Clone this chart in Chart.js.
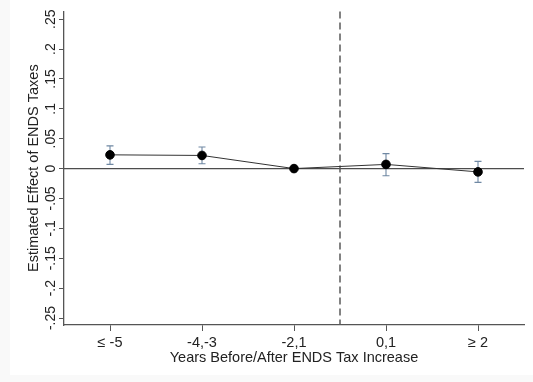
<!DOCTYPE html>
<html>
<head>
<meta charset="utf-8">
<script src="https://cdn.jsdelivr.net/npm/chart.js@4/dist/chart.umd.min.js"></script>
<style>
  html, body { margin: 0; padding: 0; background: #f9f9f9; width: 533px; height: 382px; overflow: hidden; }
  #wrap { position: absolute; left: 10px; top: 0; width: 523px; height: 375px; background: #ffffff; }
</style>
</head>
<body>
<div id="wrap"><canvas id="c" width="523" height="375"></canvas></div>
<script>
// ---- data ----
const categories = ['\u2264 -5', '-4,-3', '-2,1', '0,1', '\u2265 2'];
const estimates  = [0.023, 0.022, 0.0, 0.007, -0.0055];
const ciLower    = [0.007, 0.008, 0.0, -0.012, -0.023];
const ciUpper    = [0.038, 0.036, 0.0, 0.025, 0.012];
const yTickValues = [-0.25, -0.2, -0.15, -0.1, -0.05, 0, 0.05, 0.1, 0.15, 0.2, 0.25];
const yTickLabels = ['-.25', '-.2', '-.15', '-.1', '-.05', '0', '.05', '.1', '.15', '.2', '.25'];
const yMin = -0.2617, yMax = 0.263;
const refBetween = [2, 3]; // dashed reference line between these categories

const FONT = '"Liberation Sans", Arial, sans-serif';
const AXIS = '#555555';
const TEXT = '#222222';

const overlay = {
  id: 'overlay',
  beforeDatasetsDraw(chart) {
    const { ctx, chartArea: a, scales: { x, y } } = chart;
    ctx.save();
    // zero line
    const y0 = y.getPixelForValue(0);
    ctx.strokeStyle = '#4d4d4d';
    ctx.lineWidth = 1.4;
    ctx.beginPath(); ctx.moveTo(a.left, y0); ctx.lineTo(a.right, y0); ctx.stroke();
    // dashed vertical
    const xr = (x.getPixelForValue(refBetween[0]) + x.getPixelForValue(refBetween[1])) / 2;
    ctx.strokeStyle = '#5a5a5a';
    ctx.lineWidth = 1.5;
    ctx.setLineDash([7, 4]);
    ctx.beginPath(); ctx.moveTo(xr, a.top); ctx.lineTo(xr, a.bottom); ctx.stroke();
    ctx.setLineDash([]);
    // error bars
    ctx.strokeStyle = '#6f88a3';
    ctx.lineWidth = 1.1;
    for (let i = 0; i < categories.length; i++) {
      if (ciUpper[i] === ciLower[i]) continue;
      const px = x.getPixelForValue(i);
      const yl = y.getPixelForValue(ciLower[i]);
      const yu = y.getPixelForValue(ciUpper[i]);
      ctx.beginPath();
      ctx.moveTo(px, yl); ctx.lineTo(px, yu);
      ctx.moveTo(px - 3.5, yl); ctx.lineTo(px + 3.5, yl);
      ctx.moveTo(px - 3.5, yu); ctx.lineTo(px + 3.5, yu);
      ctx.stroke();
    }
    ctx.restore();
  },
  afterDraw(chart) {
    const { ctx, chartArea: a, scales: { y } } = chart;
    ctx.save();
    ctx.fillStyle = TEXT;
    ctx.font = '14px ' + FONT;
    ctx.textAlign = 'center';
    ctx.textBaseline = 'middle';
    yTickValues.forEach((v, i) => {
      const py = y.getPixelForValue(v);
      ctx.save();
      ctx.translate(a.left - 13, py);
      ctx.rotate(-Math.PI / 2);
      ctx.fillText(yTickLabels[i], 0, 0);
      ctx.restore();
    });
    ctx.restore();
  }
};

new Chart(document.getElementById('c'), {
  type: 'line',
  data: {
    labels: categories,
    datasets: [{
      data: estimates,
      borderColor: '#333333',
      borderWidth: 1,
      pointBackgroundColor: '#000000',
      pointBorderColor: '#000000',
      pointRadius: 4.3,
      pointHoverRadius: 4.3,
      tension: 0
    }]
  },
  options: {
    responsive: false,
    animation: false,
    events: [],
    layout: { padding: { left: 0, top: 10, right: 9, bottom: 0 } },
    plugins: { legend: { display: false }, tooltip: { enabled: false } },
    scales: {
      x: {
        type: 'category',
        offset: true,
        grid: { offset: false, drawOnChartArea: false, drawTicks: true, tickLength: 6, color: AXIS, lineWidth: 1 },
        border: { display: true, color: AXIS, width: 1.3 },
        ticks: { color: TEXT, font: { family: FONT, size: 14.5 }, padding: 3, maxRotation: 0, minRotation: 0 },
        title: { display: true, text: 'Years Before/After ENDS Tax Increase', color: TEXT,
                 font: { family: FONT, size: 14.5 }, padding: { top: 0, bottom: 8 } },
        afterFit(s) { s.height = 50; }
      },
      y: {
        type: 'linear',
        min: yMin,
        max: yMax,
        afterBuildTicks(s) { s.ticks = yTickValues.map(v => ({ value: v })); },
        grid: { drawOnChartArea: false, drawTicks: true, tickLength: 5, color: AXIS, lineWidth: 1 },
        border: { display: true, color: AXIS, width: 1.3 },
        ticks: { callback: () => '', font: { family: FONT, size: 14 } },
        title: { display: true, text: 'Estimated Effect of ENDS Taxes', color: TEXT,
                 font: { family: FONT, size: 14.5 }, padding: { top: 15, bottom: 0 } },
        afterFit(s) { s.width = 54; }
      }
    }
  },
  plugins: [overlay]
});
</script>
</body>
</html>
